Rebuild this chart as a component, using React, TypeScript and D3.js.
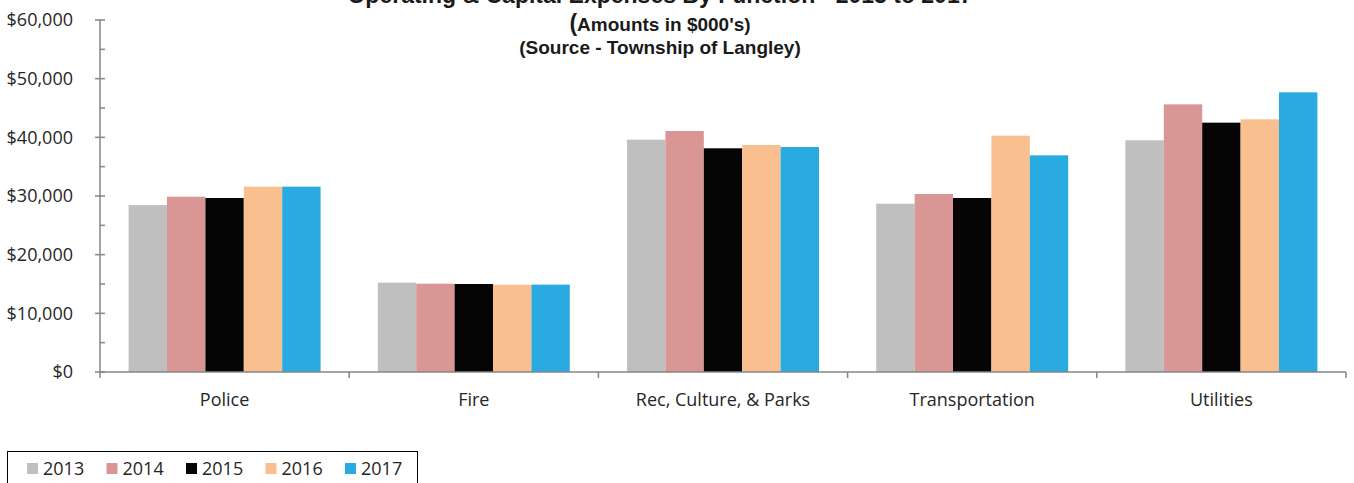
import React from "react";
import * as d3 from "d3";

const categories = ["Police", "Fire", "Rec, Culture, & Parks", "Transportation", "Utilities"];
const years = ["2013", "2014", "2015", "2016", "2017"];
const yearColors = ["#BFBFBF", "#D99694", "#050505", "#F9BF8F", "#29ABE2"];

// Amounts in $000's, one array per year, in category order
const values2013 = [28450, 15220, 39600, 28690, 39490];
const values2014 = [29880, 15050, 41080, 30340, 45620];
const values2015 = [29660, 15000, 38130, 29660, 42500];
const values2016 = [31590, 14890, 38690, 40280, 43070];
const values2017 = [31590, 14890, 38350, 36930, 47670];
const seriesValues = [values2013, values2014, values2015, values2016, values2017];

const yTicks = [0, 10000, 20000, 30000, 40000, 50000, 60000];
const yMinorTicks = [5000, 15000, 25000, 35000, 45000, 55000];

const W = 1354;
const H = 483;
const plotLeft = 100;
const plotRight = 1346;
const plotTop = 20;
const plotBottom = 372;

const axisColor = "#868686";
const textColor = "#262626";
const bodyFont = "'Open Sans', sans-serif";
const titleFont = "'Liberation Sans', Arial, sans-serif";

export default function App() {
  const x0 = d3.scaleBand<string>().domain(categories).range([plotLeft, plotRight]).padding(0);
  const x1 = d3
    .scaleBand<string>()
    .domain(years)
    .range([0, x0.bandwidth()])
    .paddingInner(0)
    .paddingOuter(0.745);
  const y = d3.scaleLinear().domain([0, 60000]).range([plotBottom, plotTop]);
  const fmt = (v: number) => "$" + d3.format(",")(v);

  const boundaries = [...categories.map((c) => x0(c)!), plotRight];

  return (
    <svg
      width={W}
      height={H}
      style={{ position: "absolute", left: 0, top: 0, background: "#fff" }}
    >
      {/* titles; the main title sits partly above the top edge */}
      <g fontFamily={titleFont} fontWeight="bold" fill="#1a1a1a" textAnchor="middle">
        <text x={660} y={3} fontSize={23}>
          Operating &amp; Capital Expenses By Function - 2013 to 2017
        </text>
        <text x={660} y={31} fontSize={19}>
          <tspan fontSize={23}>(</tspan>Amounts in $000's)
        </text>
        <text x={660} y={54} fontSize={19}>
          (Source - Township of Langley)
        </text>
      </g>

      {/* bars */}
      {categories.map((cat, ci) => (
        <g key={cat} transform={`translate(${x0(cat)},0)`}>
          {years.map((yr, si) => {
            const v = seriesValues[si][ci];
            return (
              <rect
                key={yr}
                x={x1(yr)}
                y={y(v)}
                width={x1.bandwidth()}
                height={plotBottom - y(v)}
                fill={yearColors[si]}
              />
            );
          })}
        </g>
      ))}

      {/* y axis */}
      <line x1={plotLeft} x2={plotLeft} y1={plotTop} y2={plotBottom} stroke={axisColor} strokeWidth={1.5} />
      {yTicks.map((t) => (
        <g key={t}>
          <line x1={plotLeft - 5} x2={plotLeft + 5} y1={y(t)} y2={y(t)} stroke={axisColor} strokeWidth={1.5} />
          <text
            x={73}
            y={y(t)}
            dy="0.35em"
            textAnchor="end"
            fontFamily={bodyFont}
            fontSize={18}
            fill={textColor}
          >
            {fmt(t)}
          </text>
        </g>
      ))}
      {yMinorTicks.map((t) => (
        <line key={t} x1={plotLeft} x2={plotLeft + 5} y1={y(t)} y2={y(t)} stroke={axisColor} strokeWidth={1.5} />
      ))}

      {/* x axis */}
      <line x1={plotLeft} x2={plotRight} y1={plotBottom} y2={plotBottom} stroke={axisColor} strokeWidth={1.5} />
      {boundaries.map((bx, i) => (
        <line key={i} x1={bx} x2={bx} y1={plotBottom} y2={plotBottom + 6} stroke={axisColor} strokeWidth={1.5} />
      ))}
      {categories.map((cat) => (
        <text
          key={cat}
          x={x0(cat)! + x0.bandwidth() / 2}
          y={406}
          textAnchor="middle"
          fontFamily={bodyFont}
          fontSize={18}
          fill={textColor}
        >
          {cat}
        </text>
      ))}

      {/* legend */}
      <rect x={7.5} y={451.5} width={410} height={40} fill="#fff" stroke="#000" strokeWidth={1} />
      {years.map((yr, i) => (
        <g key={yr} transform={`translate(${27 + i * 79.5},0)`}>
          <rect x={0} y={463} width={11} height={11} fill={yearColors[i]} />
          <text x={16} y={475} fontFamily={bodyFont} fontSize={18} fill={textColor}>
            {yr}
          </text>
        </g>
      ))}
    </svg>
  );
}
